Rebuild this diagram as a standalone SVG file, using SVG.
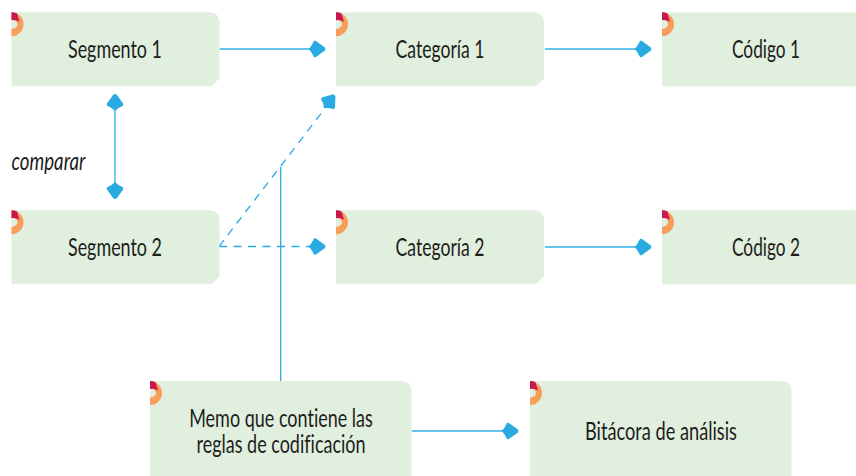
<svg xmlns="http://www.w3.org/2000/svg" width="856" height="476" viewBox="0 0 856 476">
<style>
.box{fill:#e1efdf}
.t{font-family:"Lato","Liberation Sans",sans-serif;font-size:25px;font-weight:400;fill:#1d1d1b;text-anchor:middle;font-variant-ligatures:none}
.c{fill:none;stroke:#66c2ea;stroke-width:2}
.v{fill:none;stroke:#29abe2;stroke-width:1.3}
.d{fill:none;stroke:#29abe2;stroke-width:1.3;stroke-dasharray:8 6.500}
.h{fill:#29abe2;stroke:#29abe2;stroke-width:1.5;stroke-linejoin:round}
</style>
<defs>
<g id="badge">
<path d="M0 0A12 12 0 0 1 0 24V16.700A6 4.700 0 0 0 0 7.300Z" fill="#f99d5b"/>
<path d="M0 0Q3 0 5.500 1.300L8 9.500Q4 7 0 8Z" fill="#c9184f"/>
</g>
<path id="head" d="M-9.500 0Q-7 -2 -4.500 -7.500L-3.500 -7.500L5.500 -1L5.500 1L-3.500 7.500L-4.500 7.500Q-7 2 -9.500 0Z"/>
<path id="cut" d="M0 0H197Q208 0 208 11V66L200 74H0Z"/>
</defs>

<g id="connectors">
<path class="c" d="M219.500 49H318"/>
<use href="#head" class="h" x="319" y="49"/>
<path class="c" d="M545 49H644"/>
<use href="#head" class="h" x="645" y="49"/>
<path class="v" d="M115 100V190"/>
<use href="#head" class="h" transform="translate(115 100.500) rotate(-90)"/>
<use href="#head" class="h" transform="translate(115 192.500) rotate(90)"/>
<path class="d" d="M219 246.500L323 111"/>
<use href="#head" class="h" transform="translate(330.500 100) rotate(-52)"/>
<path class="d" d="M219 246.500H318"/>
<use href="#head" class="h" x="319" y="246.500"/>
<path class="c" d="M545 247H644"/>
<use href="#head" class="h" x="645" y="247"/>
<path class="v" d="M280.700 167V381"/>
<path class="c" d="M412 431H503"/>
<use href="#head" class="h" x="512" y="431"/>
</g>

<g id="segmento1"><use href="#cut" class="box" transform="translate(11.500 12.300)"/><use href="#badge" transform="translate(11.500 12.300)"/><text class="t" x="115" y="58" textLength="94" lengthAdjust="spacingAndGlyphs">Segmento 1</text></g>
<g id="categoria1"><use href="#cut" class="box" transform="translate(336 12.300)"/><use href="#badge" transform="translate(336 12.300)"/><text class="t" x="440" y="58" textLength="89" lengthAdjust="spacingAndGlyphs">Categoría 1</text></g>
<g id="codigo1"><rect class="box" x="662" y="12.300" width="194" height="74"/><use href="#badge" transform="translate(662 12.300)"/><text class="t" x="766" y="58" textLength="68" lengthAdjust="spacingAndGlyphs">Código 1</text></g>
<g id="segmento2"><use href="#cut" class="box" transform="translate(11.500 210.300)"/><use href="#badge" transform="translate(11.500 210.300)"/><text class="t" x="115" y="256" textLength="94" lengthAdjust="spacingAndGlyphs">Segmento 2</text></g>
<g id="categoria2"><use href="#cut" class="box" transform="translate(336 210.300)"/><use href="#badge" transform="translate(336 210.300)"/><text class="t" x="440" y="256" textLength="89" lengthAdjust="spacingAndGlyphs">Categoría 2</text></g>
<g id="codigo2"><rect class="box" x="662" y="210.300" width="194" height="74"/><use href="#badge" transform="translate(662 210.300)"/><text class="t" x="766" y="256" textLength="68" lengthAdjust="spacingAndGlyphs">Código 2</text></g>
<g id="memo"><path class="box" d="M150 381H401Q411.500 381 411.500 391V476H150Z"/><use href="#badge" transform="translate(150 381)"/><text class="t" transform="translate(281 427) scale(0.72 1)"><tspan x="0" y="0">Memo que contiene las</tspan><tspan x="0" y="26">reglas de codificación</tspan></text></g>
<g id="bitacora"><path class="box" d="M530 381H781Q791.500 381 791.500 391V476H530Z"/><use href="#badge" transform="translate(530 381)"/><text class="t" x="661" y="440" textLength="152" lengthAdjust="spacingAndGlyphs">Bitácora de análisis</text></g>
<g id="comparar"><text class="t" x="48.500" y="170" font-style="italic" textLength="74" lengthAdjust="spacingAndGlyphs">comparar</text></g>
</svg>
